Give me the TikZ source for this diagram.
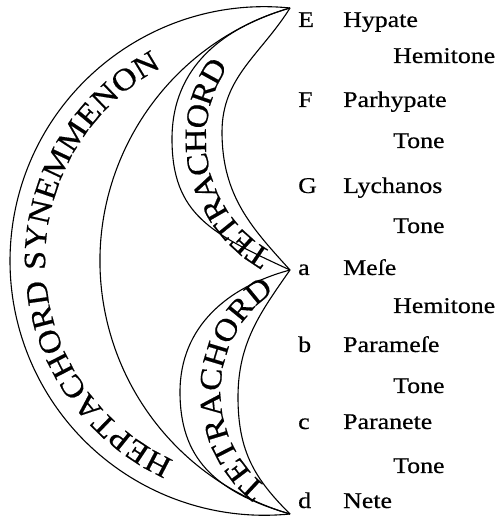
\documentclass[tikz,border=0pt]{standalone}
\usepackage{fontspec}
\setmainfont{Liberation Serif}
\newfontfamily\lblfont[FakeStretch=1.15,FakeBold=0.5]{Liberation Serif}
\newfontfamily\arcfont[FakeStretch=1.1,FakeBold=0.5]{Liberation Serif}
\usetikzlibrary{decorations.text}
\begin{document}
\begin{tikzpicture}[x=1pt,y=1pt,
  arcline/.style={line width=1.1pt},
  lbl/.style={anchor=base west, inner sep=0pt, font=\lblfont\fontsize{22.5}{24}\selectfont},
  heptext/.style={font=\arcfont\fontsize{31}{33}\selectfont, decorate,
     decoration={text along path, text align=fit to path, raise=-10.2pt,
     text={|\arcfont\fontsize{31}{33}\selectfont|#1}}},
  tettext/.style={font=\arcfont\fontsize{31}{33}\selectfont, decorate,
     decoration={text along path, text align=fit to path, raise=-10.2pt,
     text={|\arcfont\fontsize{31}{33}\selectfont|#1}}}]
\useasboundingbox (0,0) rectangle (499,517);
% tips of the crescents
\coordinate (Ttop) at (290,509);
\coordinate (Tmid) at (290,247);
\coordinate (Tbot) at (290,3);
% heptachord band
\draw[arcline] (Ttop) arc[start angle=84.2, end angle=275.8, radius=254.3];
\draw[arcline] (Ttop) arc[start angle=106.19, end angle=253.81, radius=263.45];
% upper tetrachord band
\coordinate (UO) at (172,378);
\coordinate (UI) at (222,385);
\draw[arcline] (Ttop) .. controls (222.8,489.5) and (172,450) .. (UO)
                      .. controls (172,302) and (212,283) .. (Tmid);
\draw[arcline] (Ttop) .. controls (260.9,462.4) and (222,440) .. (UI)
                      .. controls (222,320) and (253.2,287.7) .. (Tmid);
% lower tetrachord band
\coordinate (LO) at (180,125);
\coordinate (LI) at (238,120);
\draw[arcline] (Tmid) .. controls (227.2,230.2) and (180,190) .. (LO)
                      .. controls (180,60) and (213.2,25.3) .. (Tbot);
\draw[arcline] (Tmid) .. controls (261.5,206) and (238,175) .. (LI)
                      .. controls (238,65) and (255,38) .. (Tbot);
% curved titles
\path[heptext={HEPTACHORD SYNEMMENON}] ([shift={(245.5:229)}]264,256) arc[start angle=245.5, end angle=118, radius=229];
\path[tettext={TETRACHORD}] ([shift={(240.5:140)}]335.8,378) arc[start angle=240.5, end angle=146, radius=140];
\path[tettext={TETRACHORD}] ([shift={(231.5:131)}]341.4,125) arc[start angle=231.5, end angle=124, radius=131];
% labels
\node[lbl] (nE) at (298,490) {E};
\node[lbl] (hyp) at (343,490) {Hypate};
\node[lbl] (i1) at (393,454) {Hemitone};
\node[lbl] (nF) at (298,410) {F};
\node[lbl] (parh) at (343,410) {Parhypate};
\node[lbl] (i2) at (393,369) {Tone};
\node[lbl] (nG) at (298,324) {G};
\node[lbl] (lyc) at (343,324) {Lychanos};
\node[lbl] (i3) at (393,284) {Tone};
\node[lbl] (na) at (298,242) {a};
\node[lbl] (mes) at (343,242) {Meſe};
\node[lbl] (i4) at (393,204) {Hemitone};
\node[lbl] (nb) at (298,165) {b};
\node[lbl] (parm) at (343,165) {Parameſe};
\node[lbl] (i5) at (393,124) {Tone};
\node[lbl] (nc) at (298,88) {c};
\node[lbl] (parn) at (343,88) {Paranete};
\node[lbl] (i6) at (393,44) {Tone};
\node[lbl] (nd) at (298,9) {d};
\node[lbl] (net) at (343,9) {Nete};
\end{tikzpicture}
\end{document}
